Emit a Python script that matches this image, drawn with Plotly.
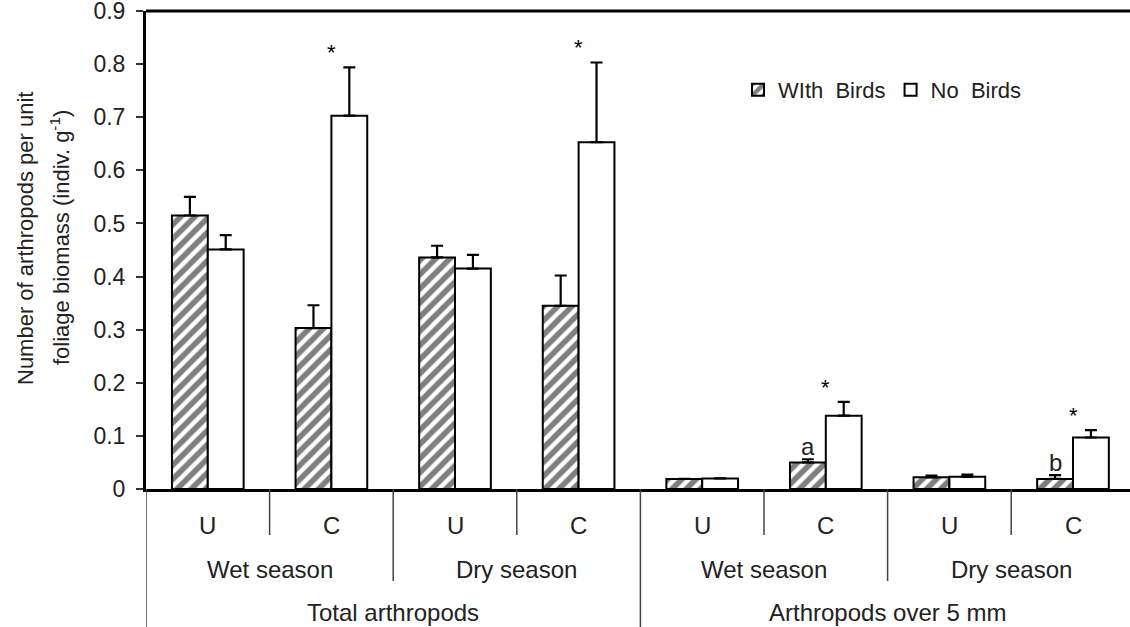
import plotly.graph_objects as go

# ---------------- data ----------------
conditions = ["U", "C", "U", "C", "U", "C", "U", "C"]
seasons = ["Wet season", "Dry season", "Wet season", "Dry season"]
groups = ["Total arthropods", "Arthropods over 5 mm"]

with_birds = [0.515, 0.303, 0.436, 0.345, 0.019, 0.050, 0.022, 0.019]
with_birds_err = [0.035, 0.043, 0.022, 0.057, 0.0, 0.006, 0.003, 0.007]
no_birds = [0.451, 0.703, 0.415, 0.653, 0.020, 0.138, 0.023, 0.097]
no_birds_err = [0.027, 0.091, 0.026, 0.150, 0.0, 0.026, 0.004, 0.014]

star_cats = [1, 3, 5, 7]
letters = {5: "a", 7: "b"}

y_ticks = [0, 0.1, 0.2, 0.3, 0.4, 0.5, 0.6, 0.7, 0.8, 0.9]
y_tick_text = ["0", "0.1", "0.2", "0.3", "0.4", "0.5", "0.6", "0.7", "0.8", "0.9"]

# ---------------- layout constants ----------------
FONT = "Liberation Sans, Arial, sans-serif"
W, H = 1130, 627
PLOT_LEFT, PLOT_TOP, PLOT_BOTTOM = 146, 11, 489   # screen pixels
ML = PLOT_LEFT
MT = PLOT_TOP
MB = H - PLOT_BOTTOM
MR = 0
PLOT_H = PLOT_BOTTOM - PLOT_TOP
PLOT_W = W - ML - MR
CAT_PX = 123.6
BARGAP = 0.42
BAR_W = (1 - BARGAP) / 2


def ypaper(py):
    return (PLOT_BOTTOM - py) / PLOT_H


def xpaper(px):
    return (px - PLOT_LEFT) / PLOT_W


x = list(range(len(conditions)))

fig = go.Figure()
fig.add_trace(go.Bar(
    x=x, y=with_birds, name="WIth\u00a0 Birds",
    marker=dict(color="white", line=dict(color="black", width=2),
                pattern=dict(shape="/", size=10, solidity=0.55,
                             fgcolor="black", bgcolor="white")),
    error_y=dict(type="data", symmetric=False, array=with_birds_err,
                 arrayminus=[0] * len(x), color="black", thickness=2.2, width=6),
))
fig.add_trace(go.Bar(
    x=x, y=no_birds, name="No\u00a0 Birds",
    marker=dict(color="white", line=dict(color="black", width=2)),
    error_y=dict(type="data", symmetric=False, array=no_birds_err,
                 arrayminus=[0] * len(x), color="black", thickness=2.2, width=6),
))

annotations = []
lab = dict(showarrow=False, xanchor="center", yanchor="middle")
# condition labels
for i, c in enumerate(conditions):
    annotations.append(dict(x=i, y=ypaper(525), xref="x", yref="paper", text=c,
                            font=dict(size=24, color="#222"), **lab))
# season labels
for j, s in enumerate(seasons):
    annotations.append(dict(x=2 * j + 0.5, y=ypaper(569), xref="x", yref="paper", text=s,
                            font=dict(size=24, color="#222"), **lab))
# group labels
for k, g in enumerate(groups):
    annotations.append(dict(x=4 * k + 1.5, y=ypaper(612), xref="x", yref="paper", text=g,
                            font=dict(size=24, color="#222"), **lab))
# significance stars
for i in star_cats:
    annotations.append(dict(x=i, y=no_birds[i] + no_birds_err[i] + 0.028, xref="x", yref="y",
                            text="*", font=dict(size=22, color="black"), **lab))
# letters
for i, t in letters.items():
    annotations.append(dict(x=i - BAR_W / 2, y=with_birds[i] + with_birds_err[i] + 0.024,
                            xref="x", yref="y", text=t,
                            font=dict(size=24, color="#222"), **lab))
# y-axis title (two lines)
annotations.append(dict(x=xpaper(25), y=ypaper(238), xref="paper", yref="paper",
                        text="Number of arthropods per unit", textangle=-90,
                        font=dict(size=22, color="#222"), **lab))
annotations.append(dict(x=xpaper(60), y=ypaper(238), xref="paper", yref="paper",
                        text="foliage biomass (indiv. g<sup>-1</sup>)", textangle=-90,
                        font=dict(size=22, color="#222"), **lab))

shapes = []
# top border
shapes.append(dict(type="line", xref="paper", yref="paper", x0=0, x1=1, y0=1, y1=1,
                   line=dict(color="black", width=3)))
# category dividers below the axis
for b in range(len(conditions)):
    if b % 4 == 0:
        end = H + 20
    elif b % 2 == 0:
        end = 581
    else:
        end = 535
    shapes.append(dict(type="line", xref="x", yref="paper", x0=b - 0.5, x1=b - 0.5,
                       y0=0, y1=ypaper(end), line=dict(color="#444", width=1.5)))

x_max = -0.5 + PLOT_W / CAT_PX

fig.update_layout(
    width=W, height=H,
    margin=dict(l=ML, r=MR, t=MT, b=MB, autoexpand=False),
    paper_bgcolor="white", plot_bgcolor="white",
    font=dict(family=FONT, size=24, color="#222"),
    barmode="group", bargap=BARGAP, bargroupgap=0,
    showlegend=True,
    legend=dict(orientation="h", x=xpaper(738), y=ypaper(90), xanchor="left", yanchor="middle",
                font=dict(size=22, color="#222"), bgcolor="rgba(0,0,0,0)",
                itemwidth=30, tracegroupgap=0),
    xaxis=dict(range=[-0.5, x_max], showticklabels=False, showgrid=False, zeroline=False,
               showline=True, linecolor="black", linewidth=3, ticks="", automargin=False),
    yaxis=dict(range=[0, 0.9], tickvals=y_ticks, ticktext=y_tick_text, showgrid=False,
               zeroline=False, showline=True, linecolor="black", linewidth=3,
               ticks="outside", ticklen=7, tickwidth=1.5, tickcolor="#333",
               tickfont=dict(size=23, color="#222"), ticklabelstandoff=6,
               automargin=False, ticklabeloverflow="allow"),
    annotations=annotations,
    shapes=shapes,
)

fig.write_html(
    "out.html",
    config={"displayModeBar": False},
    post_script="document.body.style.margin='0';document.body.style.padding='0';",
)
